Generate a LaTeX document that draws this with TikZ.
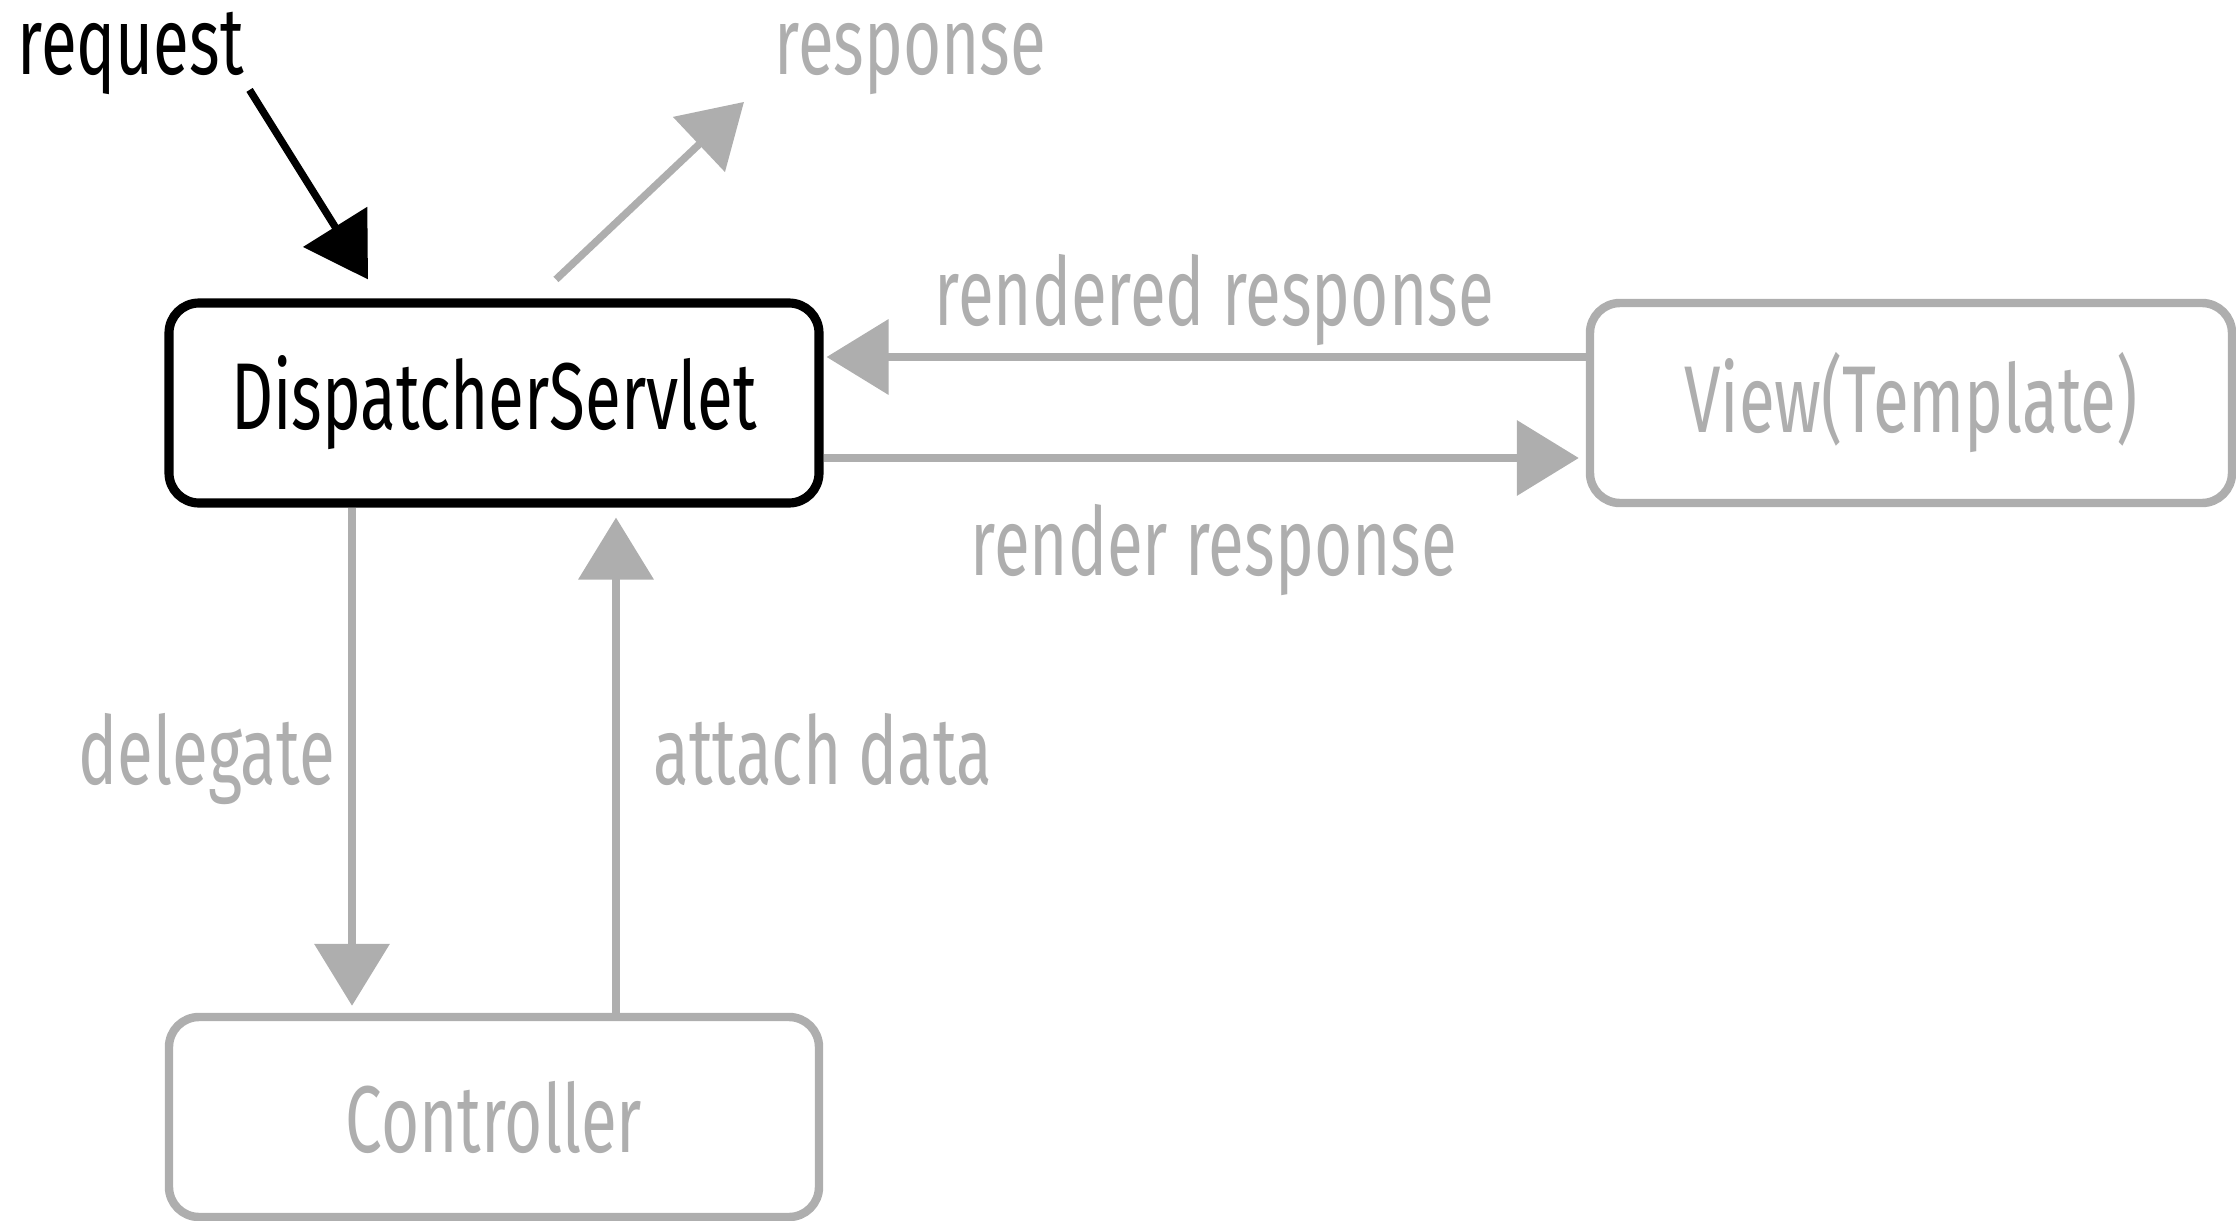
\documentclass[tikz,border=0pt]{standalone}
\usepackage{fontspec}
\setmainfont[FakeStretch=0.69]{Fira Sans}
\usetikzlibrary{arrows.meta,positioning}
\definecolor{sketchgray}{HTML}{AEAEAE}
\tikzstyle{block} = [rectangle, draw=sketchgray, line width=2.4pt, rounded corners=0.3cm, minimum width=6.5cm, minimum height=2cm, text=sketchgray, font=\fontsize{27}{30}\selectfont]
\tikzstyle{label} = [inner sep=0pt, anchor=base west, text=sketchgray, font=\fontsize{27}{30}\selectfont]
\tikzstyle{arrow}=[draw=sketchgray, line width=2.1pt, -{Triangle[length=0.62cm, width=0.74cm]}, sketchgray]

\begin{document}
\begin{tikzpicture}[node distance = 7.14cm, auto]
        \useasboundingbox (0,0) rectangle (22.36,-12.21);
        % Place nodes
        \node [block, draw=black, text=black, line width=2.6pt] (D) at (4.94,-4.03) {DispatcherServlet};
        \node [block, below of=D] (C) {Controller};
        \node [block, right of=D, xshift=7.03cm, minimum width=6.42cm] (V) {View(Template)};
        \node [label, text=black] (R) at (0.17,-0.74) {request};
        \node [label] (S) at (7.74,-0.74) {response};
        \node [label] (L1) at (9.34,-3.25) {rendered response};
        \node [label] (L2) at (9.70,-5.75) {render response};
        \node [label] (L3) at (0.78,-7.84) {delegate};
        \node [label] (L4) at (6.53,-7.84) {attach data};
        % Draw edges
        \path [arrow, draw=black, black] ([xshift=0.05cm,yshift=0.05cm]R.south east) -- ([xshift=-1.26cm,yshift=0.19cm]D.north);
        \path [arrow] ([xshift=0.62cm,yshift=0.19cm]D.north) -- ([xshift=-0.3cm,yshift=-0.07cm]S.south west);
        \path [arrow] ([yshift=0.46cm]V.west) -- ([xshift=0.03cm,yshift=0.46cm]D.east);
        \path [arrow] ([yshift=-0.55cm]D.east) -- ([xshift=-0.07cm,yshift=-0.55cm]V.west);
        \path [arrow] ([xshift=-1.42cm]D.south) -- ([xshift=-1.42cm,yshift=0.07cm]C.north);
        \path [arrow] ([xshift=1.22cm]C.north) -- ([xshift=1.22cm,yshift=-0.1cm]D.south);
    \end{tikzpicture}
\end{document}
